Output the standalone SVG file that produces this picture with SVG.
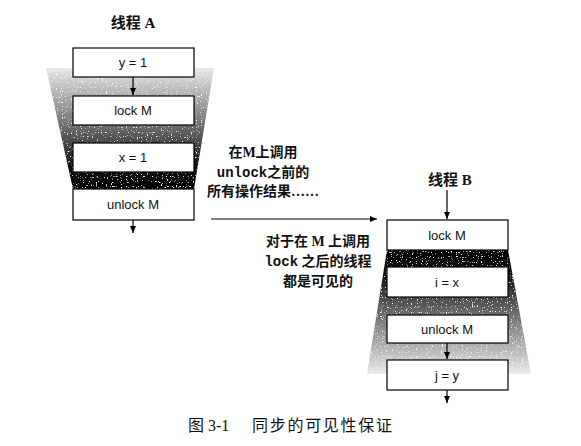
<svg xmlns="http://www.w3.org/2000/svg" width="581" height="446" viewBox="0 0 581 446">
<style>
.box{fill:#fff;stroke:#000;stroke-width:1.2}
.bl{font-family:"Liberation Sans","DejaVu Sans",sans-serif;font-size:13px;text-anchor:middle;fill:#111}
.cj{font-family:"Liberation Serif","Noto Sans CJK SC",serif;font-weight:bold;font-size:14px;text-anchor:middle;fill:#111}
.mono{font-family:"Liberation Mono",monospace;font-weight:bold}
.ttl{font-family:"Liberation Serif","Noto Sans CJK SC",serif;font-weight:bold;font-size:15px;text-anchor:middle;fill:#111}
.cap{font-family:"Liberation Serif","Noto Sans CJK SC",serif;font-size:16px;fill:#111}
.ln{stroke:#000;stroke-width:1.2;fill:none}
</style>
<defs>
<marker id="ah" markerWidth="8" markerHeight="8" refX="7" refY="4" orient="auto" markerUnits="userSpaceOnUse">
<path d="M0,1 L7,4 L0,7 Z" fill="#000"/>
</marker>
<linearGradient id="gA" x1="0" y1="68" x2="0" y2="189" gradientUnits="userSpaceOnUse">
<stop offset="0" stop-color="#e8e8e8"/>
<stop offset="0.45" stop-color="#777"/>
<stop offset="0.8" stop-color="#111"/>
<stop offset="1" stop-color="#000"/>
</linearGradient>
<linearGradient id="gB" x1="0" y1="250" x2="0" y2="374" gradientUnits="userSpaceOnUse">
<stop offset="0" stop-color="#000"/>
<stop offset="0.2" stop-color="#111"/>
<stop offset="0.55" stop-color="#777"/>
<stop offset="1" stop-color="#eaeaea"/>
</linearGradient>
<filter id="st" x="0" y="0" width="100%" height="100%">
<feTurbulence type="fractalNoise" baseFrequency="0.8" numOctaves="1" seed="4" result="n"/>
<feColorMatrix in="n" type="matrix" values="0 0 0 0 1  0 0 0 0 1  0 0 0 0 1  0 0 0 8 -5" result="w"/>
<feComposite in="w" in2="SourceGraphic" operator="in" result="wi"/>
<feMerge><feMergeNode in="SourceGraphic"/><feMergeNode in="wi"/></feMerge>
</filter>
</defs>

<g id="shadeA"><polygon points="46,68 214,68 194,189 73,189" fill="url(#gA)" filter="url(#st)"/></g>
<g id="shadeB"><polygon points="387,250 508,250 531,374 367,374" fill="url(#gB)" filter="url(#st)"/></g>

<g id="threadA-title"><text class="ttl" x="133" y="28">线程 A</text></g>
<g id="a1"><rect class="box" x="73" y="48" width="121" height="29"/><text class="bl" x="133" y="67">y = 1</text></g>
<g id="a2"><rect class="box" x="73" y="96" width="121" height="29"/><text class="bl" x="133" y="115">lock M</text></g>
<g id="a3"><rect class="box" x="73" y="143" width="121" height="29"/><text class="bl" x="133" y="162">x = 1</text></g>
<g id="a4"><rect class="box" x="73" y="189" width="121" height="31"/><text class="bl" x="133" y="209">unlock M</text></g>

<g id="threadB-title"><text class="ttl" x="450" y="185">线程 B</text></g>
<g id="b1"><rect class="box" x="387" y="220" width="121" height="30"/><text class="bl" x="447" y="240">lock M</text></g>
<g id="b2"><rect class="box" x="387" y="267" width="121" height="30"/><text class="bl" x="447" y="287">i = x</text></g>
<g id="b3"><rect class="box" x="387" y="315" width="121" height="28"/><text class="bl" x="447" y="334">unlock M</text></g>
<g id="b4"><rect class="box" x="387" y="360" width="121" height="30"/><text class="bl" x="447" y="380">j = y</text></g>

<g id="labels">
<text class="cj" x="263" y="157">在M上调用</text>
<text class="cj" x="263" y="177"><tspan class="mono">unlock</tspan>之前的</text>
<text class="cj" x="263" y="196">所有操作结果……</text>
<text class="cj" x="318" y="246">对于在 M 上调用</text>
<text class="cj" x="318" y="266"><tspan class="mono">lock</tspan> 之后的线程</text>
<text class="cj" x="318" y="286">都是可见的</text>
</g>

<g id="connectors">
<line class="ln" x1="133" y1="77" x2="133" y2="95" marker-end="url(#ah)"/>
<line class="ln" x1="133" y1="220" x2="133" y2="233" marker-end="url(#ah)"/>
<line class="ln" x1="211" y1="219" x2="377" y2="219" marker-end="url(#ah)"/>
<line class="ln" x1="447" y1="190" x2="447" y2="219" marker-end="url(#ah)"/>
<line class="ln" x1="447" y1="343" x2="447" y2="359" marker-end="url(#ah)"/>
<line class="ln" x1="447" y1="390" x2="447" y2="403" marker-end="url(#ah)"/>
</g>

<g id="caption">
<text class="cap" x="188" y="431">图 3-1</text>
<text class="cap" x="252" y="431" textLength="140">同步的可见性保证</text>
</g>
</svg>
